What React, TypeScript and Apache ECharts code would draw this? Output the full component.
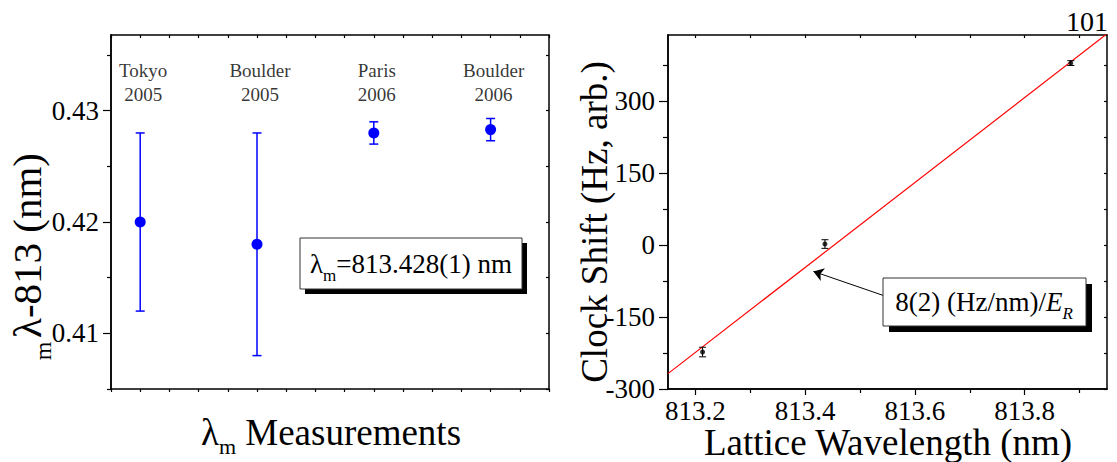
import React, { useEffect, useRef } from "react";
import * as echarts from "echarts";

// ---- Left panel data: lattice magic wavelength measurements ----
const siteLabels = ["Tokyo\n2005", "Boulder\n2005", "Paris\n2006", "Boulder\n2006"];
const siteX = [1, 5, 9, 13];
const lambdaM = [0.42, 0.418, 0.428, 0.4283];
const lambdaLow = [0.412, 0.408, 0.427, 0.4273];
const lambdaHigh = [0.428, 0.428, 0.429, 0.4293];
const siteLabelY = 0.43255;
const leftYTicks = [0.41, 0.42, 0.43];
const leftYMinor = [0.405, 0.415, 0.425, 0.435];
const leftYAll = [0.405, 0.41, 0.415, 0.42, 0.425, 0.43, 0.435];

// ---- Right panel data: clock shift vs lattice wavelength ----
const wavelength = [813.213, 813.436, 813.884];
const clockShift = [-223, 2, 379];
const shiftErr = [10, 9, 5];
const fitX = [813.15, 813.95];
const fitY = [-268, 440];
const rightXTicks = [813.2, 813.4, 813.6, 813.8];
const rightXMinor = [813.3, 813.5, 813.7, 813.9];
const rightXAll = [813.2, 813.3, 813.4, 813.5, 813.6, 813.7, 813.8, 813.9];
const rightYTicks = [-300, -150, 0, 150, 300];
const rightYMinor = [-225, -75, 75, 225, 375];
const rightYAll = [-300, -225, -150, -75, 0, 75, 150, 225, 300, 375];
const arrowFrom = [813.542, -105];
const arrowTo = [813.415, -55];

const FONT = "'Liberation Serif', 'Times New Roman', Times, serif";
const AX_LINE = { show: true, onZero: false, lineStyle: { color: "#000", width: 1.5 } };

function axis(extra: any) {
  return {
    type: "value",
    splitLine: { show: false },
    axisLine: AX_LINE,
    axisLabel: { show: false },
    ...extra,
  };
}

function tick(values: number[], length: number, inside = false) {
  return { show: true, inside, length, customValues: values, lineStyle: { color: "#000", width: 1.2 } };
}

function errorBarRenderer(color: string, width: number, cap: number) {
  return (_params: any, api: any) => {
    const x = api.value(0);
    const lo = api.coord([x, api.value(1)]);
    const hi = api.coord([x, api.value(2)]);
    const style = { stroke: color, lineWidth: width };
    return {
      type: "group",
      children: [
        { type: "line", shape: { x1: lo[0], y1: lo[1], x2: hi[0], y2: hi[1] }, style },
        { type: "line", shape: { x1: lo[0] - cap, y1: lo[1], x2: lo[0] + cap, y2: lo[1] }, style },
        { type: "line", shape: { x1: hi[0] - cap, y1: hi[1], x2: hi[0] + cap, y2: hi[1] }, style },
      ],
    };
  };
}

// rich text with a subscript: the subscript centre sits pad/2 below the main text centre
const richSub = (main: number, sub: number, pad: number) => {
  const lh = Math.max(main + 4, sub + pad + 1);
  return {
    a: { fontSize: main, fontFamily: FONT, lineHeight: lh, fill: "#000" },
    s: { fontSize: sub, fontFamily: FONT, lineHeight: sub, padding: [pad, 0, 0, 0], fill: "#000" },
    i: { fontSize: main, fontFamily: FONT, fontStyle: "italic", lineHeight: lh, fill: "#000" },
    is: { fontSize: sub, fontFamily: FONT, fontStyle: "italic", lineHeight: sub, padding: [pad, 0, 0, 0], fill: "#000" },
  };
};

export default function App() {
  const ref = useRef<HTMLDivElement>(null);
  useEffect(() => {
    if (!ref.current) return;
    const chart = echarts.init(ref.current, null, { renderer: "svg" });
    const option: any = {
      animation: false,
      backgroundColor: "#fff",
      textStyle: { fontFamily: FONT },
      grid: [
        { left: 111, top: 35, width: 438, height: 354, outerBoundsMode: "none" },
        { left: 668, top: 35, width: 439, height: 354, outerBoundsMode: "none" },
      ],
      xAxis: [
        axis({ gridIndex: 0, min: 0, max: 15, interval: 1, position: "bottom", axisTick: { show: true, length: 3, lineStyle: { color: "#000", width: 1.2 } } }),
        axis({ gridIndex: 0, min: 0, max: 15, interval: 1, position: "top", axisTick: { show: true, inside: true, length: 3, lineStyle: { color: "#000", width: 1.2 } } }),
        axis({
          gridIndex: 1, min: 813.15, max: 813.95, position: "bottom",
          axisTick: tick(rightXTicks, 6),
          axisLabel: { show: true, customValues: rightXTicks, formatter: (v: number) => v.toFixed(1), fontSize: 27, lineHeight: 20, fontFamily: FONT, color: "#000", margin: 12 },
        }),
        axis({ gridIndex: 1, min: 813.15, max: 813.95, position: "bottom", axisTick: tick(rightXMinor, 4) }),
        axis({ gridIndex: 1, min: 813.15, max: 813.95, position: "top", axisTick: tick(rightXAll, 3, true) }),
      ],
      yAxis: [
        axis({
          gridIndex: 0, min: 0.405, max: 0.4368, position: "left",
          axisTick: tick(leftYTicks, 8),
          axisLabel: { show: true, customValues: leftYTicks, formatter: (v: number) => v.toFixed(2), fontSize: 27, fontFamily: FONT, color: "#000", margin: 12 },
        }),
        axis({ gridIndex: 0, min: 0.405, max: 0.4368, position: "left", axisTick: tick(leftYMinor, 4) }),
        axis({ gridIndex: 0, min: 0.405, max: 0.4368, position: "right", axisTick: tick(leftYAll, 3, true) }),
        axis({
          gridIndex: 1, min: -300, max: 437.5, position: "left",
          axisTick: tick(rightYTicks, 9),
          axisLabel: { show: true, customValues: rightYTicks, formatter: (v: number) => String(v), fontSize: 27, fontFamily: FONT, color: "#000", margin: 13 },
        }),
        axis({ gridIndex: 1, min: -300, max: 437.5, position: "left", axisTick: tick(rightYMinor, 5) }),
        axis({ gridIndex: 1, min: -300, max: 437.5, position: "right", axisTick: tick(rightYAll, 3, true) }),
      ],
      series: [
        {
          type: "custom",
          xAxisIndex: 0, yAxisIndex: 0,
          renderItem: errorBarRenderer("#0000ff", 1.5, 4.5),
          encode: { x: 0, y: [1, 2] },
          data: siteX.map((x, i) => [x, lambdaLow[i], lambdaHigh[i]]),
          z: 2,
        },
        {
          type: "scatter",
          xAxisIndex: 0, yAxisIndex: 0,
          symbol: "circle", symbolSize: 11,
          itemStyle: { color: "#0000ff", opacity: 1 },
          data: siteX.map((x, i) => [x, lambdaM[i]]),
          z: 3,
        },
        {
          type: "scatter",
          xAxisIndex: 0, yAxisIndex: 0,
          symbolSize: 1,
          itemStyle: { color: "rgba(0,0,0,0)" },
          label: {
            show: true, position: "inside", offset: [3, 0],
            formatter: (p: any) => siteLabels[p.dataIndex],
            fontSize: 19, lineHeight: 24, fontFamily: FONT, color: "#000", align: "center",
          },
          data: siteX.map((x) => [x, siteLabelY]),
        },
        {
          type: "line",
          xAxisIndex: 2, yAxisIndex: 3,
          showSymbol: false, symbol: "none",
          lineStyle: { color: "#ff0000", width: 1.2 },
          clip: true,
          data: fitX.map((x, i) => [x, fitY[i]]),
          z: 2,
        },
        {
          type: "custom",
          xAxisIndex: 2, yAxisIndex: 3,
          renderItem: errorBarRenderer("#000", 1, 3.5),
          encode: { x: 0, y: [1, 2] },
          data: wavelength.map((x, i) => [x, clockShift[i] - shiftErr[i], clockShift[i] + shiftErr[i]]),
          z: 3,
        },
        {
          type: "scatter",
          xAxisIndex: 2, yAxisIndex: 3,
          symbol: "circle", symbolSize: 5,
          itemStyle: { color: "#000" },
          data: wavelength.map((x, i) => [x, clockShift[i]]),
          z: 3,
          markLine: {
            silent: true,
            symbol: ["none", "arrow"],
            symbolSize: 10,
            label: { show: false },
            lineStyle: { color: "#000", width: 1, type: "solid" },
            data: [[{ coord: arrowFrom }, { coord: arrowTo }]],
          },
        },
      ],
      graphic: [
        // left panel annotation box with shadow
        { type: "rect", shape: { x: 305, y: 243, width: 222, height: 51 }, style: { fill: "#000" }, z: 10 },
        { type: "rect", shape: { x: 300, y: 238, width: 222, height: 51 }, style: { fill: "#fff", stroke: "#333", lineWidth: 1 }, z: 11 },
        {
          type: "text", x: 411, y: 264, z: 12,
          style: {
            text: "{a|λ}{s|m}{a|=813.428(1) nm}",
            align: "center", verticalAlign: "middle",
            rich: richSub(27, 17, 22),
          },
        },
        // right panel annotation box with shadow
        { type: "rect", shape: { x: 889, y: 284, width: 203, height: 48 }, style: { fill: "#000" }, z: 10 },
        { type: "rect", shape: { x: 883, y: 278, width: 203, height: 48 }, style: { fill: "#fff", stroke: "#333", lineWidth: 1 }, z: 11 },
        {
          type: "text", x: 984, y: 302, z: 12,
          style: {
            text: "{a|8(2) (Hz/nm)/}{i|E}{is|R}",
            align: "center", verticalAlign: "middle",
            rich: richSub(27, 17, 22),
          },
        },
        // left y-axis title: main text and its subscript, which sits below the lambda
        {
          type: "text", x: 27, y: 338, rotation: Math.PI / 2, z: 12,
          style: { text: "λ-813 (nm)", fontSize: 41, lineHeight: 42, fontFamily: FONT, fill: "#000", align: "left", verticalAlign: "middle" },
        },
        {
          type: "text", x: 43, y: 351, rotation: Math.PI / 2, z: 12,
          style: { text: "m", fontSize: 24, lineHeight: 24, fontFamily: FONT, fill: "#000", align: "center", verticalAlign: "middle" },
        },
        {
          type: "text", x: 331, y: 432, z: 12,
          style: { text: "{a|λ}{s|m}{a| Measurements}", align: "center", verticalAlign: "middle", rich: richSub(37, 22, 28) },
        },
        {
          type: "text", x: 594, y: 222, rotation: Math.PI / 2, z: 12,
          style: { text: "Clock Shift (Hz, arb.)", fontSize: 37, lineHeight: 38, fontFamily: FONT, fill: "#000", align: "center", verticalAlign: "middle" },
        },
        {
          type: "text", x: 888, y: 442, z: 12,
          style: { text: "Lattice Wavelength (nm)", fontSize: 37, lineHeight: 20, fontFamily: FONT, fill: "#000", align: "center", verticalAlign: "middle" },
        },
        {
          type: "text", x: 1108, y: 21, z: 12,
          style: { text: "101", fontSize: 28, fontFamily: FONT, fill: "#000", align: "right", verticalAlign: "middle" },
        },
      ],
    };
    chart.setOption(option);
    return () => chart.dispose();
  }, []);
  return <div ref={ref} style={{ position: "fixed", left: 0, top: 0, width: 1117, height: 462 }} />;
}
